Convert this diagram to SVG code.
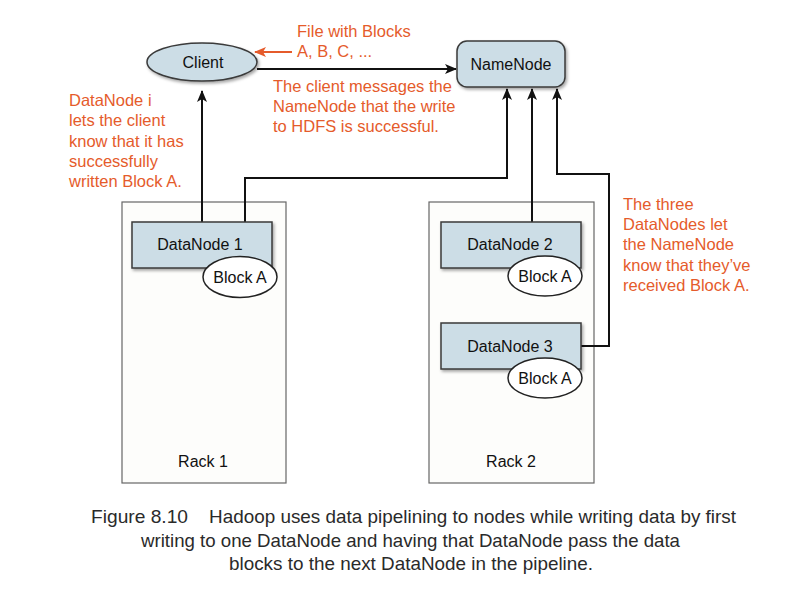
<svg xmlns="http://www.w3.org/2000/svg" width="790" height="598" viewBox="0 0 790 598">
<style>
.lbl{font-family:"Liberation Sans",Arial,sans-serif;font-size:16px;fill:#111;}
.note{font-family:"Liberation Sans",Arial,sans-serif;font-size:16.5px;fill:#E55B2B;}
.cap{font-family:"Liberation Sans",Arial,sans-serif;font-size:18.5px;fill:#2a2a2a;}
.node{fill:#CCDDE6;stroke:#3a3a3a;stroke-width:1.5;}
.rack{fill:#FDFDFB;stroke:#666;stroke-width:1.2;}
.blk{fill:#fff;stroke:#222;stroke-width:1.5;}
.wire{fill:none;stroke:#111;stroke-width:2;}
</style>
<defs>
<marker id="ah" viewBox="0 0 12 10" refX="11" refY="5" markerWidth="12" markerHeight="10" markerUnits="userSpaceOnUse" orient="auto">
<path d="M0,0 L12,5 L0,10 L3,5 Z" fill="#111"/>
</marker>
<marker id="ahO" viewBox="0 0 12 10" refX="11" refY="5" markerWidth="12" markerHeight="10" markerUnits="userSpaceOnUse" orient="auto">
<path d="M0,0 L12,5 L0,10 L3,5 Z" fill="#E55B2B"/>
</marker>
<filter id="sh" x="-10%" y="-10%" width="130%" height="140%">
<feDropShadow dx="1.5" dy="2" stdDeviation="1.5" flood-color="#000" flood-opacity="0.35"/>
</filter>
</defs>
<rect width="790" height="598" fill="#fff"/>

<g id="rack1">
<rect class="rack" x="122" y="202" width="164" height="281"/>
<text class="lbl" x="203" y="467" text-anchor="middle">Rack 1</text>
</g>
<g id="rack2">
<rect class="rack" x="429" y="202" width="165" height="281"/>
<text class="lbl" x="511" y="467" text-anchor="middle">Rack 2</text>
</g>

<g id="connectors">
<line class="wire" x1="202" y1="222" x2="202" y2="91" marker-end="url(#ah)"/>
<polyline class="wire" points="245,222 245,178 507,178 507,89" marker-end="url(#ah)"/>
<line class="wire" x1="532" y1="222" x2="532" y2="89" marker-end="url(#ah)"/>
<polyline class="wire" points="581,346 609,346 609,174 557,174 557,89" marker-end="url(#ah)"/>
<line class="wire" x1="257" y1="69" x2="456" y2="69" marker-end="url(#ah)"/>
<line x1="292" y1="52" x2="255" y2="52" stroke="#E55B2B" stroke-width="2" marker-end="url(#ahO)"/>
</g>

<g id="client">
<ellipse class="node" cx="202" cy="62" rx="55" ry="19" filter="url(#sh)"/>
<text class="lbl" x="203" y="68" text-anchor="middle">Client</text>
</g>
<g id="namenode">
<rect class="node" x="457" y="41" width="108" height="46" rx="10" filter="url(#sh)"/>
<text class="lbl" x="511" y="70" text-anchor="middle">NameNode</text>
</g>

<g id="datanode1">
<rect class="node" x="132" y="222" width="140" height="46" filter="url(#sh)"/>
<text class="lbl" x="200" y="250" text-anchor="middle">DataNode 1</text>
<ellipse class="blk" cx="240" cy="277" rx="37" ry="20.5"/>
<text class="lbl" x="240" y="283" text-anchor="middle">Block A</text>
</g>
<g id="datanode2">
<rect class="node" x="441" y="222" width="140" height="46" filter="url(#sh)"/>
<text class="lbl" x="510" y="250" text-anchor="middle">DataNode 2</text>
<ellipse class="blk" cx="545" cy="276" rx="37" ry="20"/>
<text class="lbl" x="545" y="282" text-anchor="middle">Block A</text>
</g>
<g id="datanode3">
<rect class="node" x="441" y="323" width="140" height="46" filter="url(#sh)"/>
<text class="lbl" x="510" y="352" text-anchor="middle">DataNode 3</text>
<ellipse class="blk" cx="545" cy="378" rx="37" ry="20"/>
<text class="lbl" x="545" y="384" text-anchor="middle">Block A</text>
</g>

<g id="notes">
<text class="note" x="297" y="37">File with Blocks</text>
<text class="note" x="297" y="57">A, B, C, ...</text>
<text class="note" x="273" y="92">The client messages the</text>
<text class="note" x="273" y="112">NameNode that the write</text>
<text class="note" x="273" y="132">to HDFS is successful.</text>
<text class="note" x="69" y="106">DataNode i</text>
<text class="note" x="69" y="126">lets the client</text>
<text class="note" x="69" y="147">know that it has</text>
<text class="note" x="69" y="167">successfully</text>
<text class="note" x="69" y="187">written Block A.</text>
<text class="note" x="623" y="210">The three</text>
<text class="note" x="623" y="230">DataNodes let</text>
<text class="note" x="623" y="250">the NameNode</text>
<text class="note" x="623" y="271">know that they’ve</text>
<text class="note" x="623" y="291">received Block A.</text>
</g>

<g id="caption">
<text class="cap" x="91" y="523" textLength="97" lengthAdjust="spacingAndGlyphs" fill="#444">Figure 8.10</text>
<text class="cap" x="209" y="523" textLength="527" lengthAdjust="spacingAndGlyphs">Hadoop uses data pipelining to nodes while writing data by first</text>
<text class="cap" x="141" y="547" textLength="539" lengthAdjust="spacingAndGlyphs">writing to one DataNode and having that DataNode pass the data</text>
<text class="cap" x="229" y="570" textLength="364" lengthAdjust="spacingAndGlyphs">blocks to the next DataNode in the pipeline.</text>
</g>
</svg>
